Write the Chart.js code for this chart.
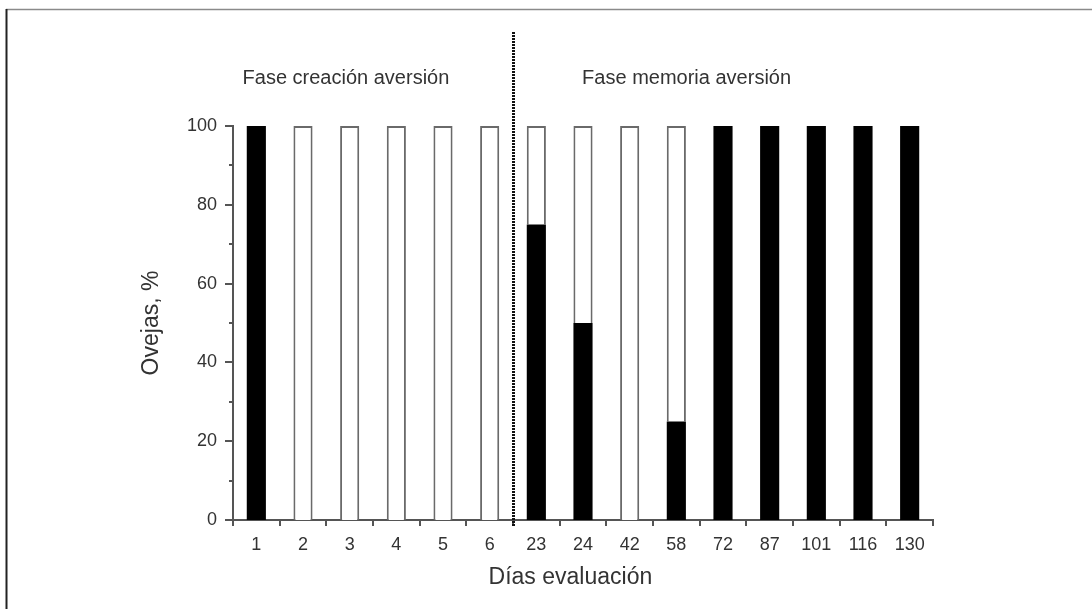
<!DOCTYPE html>
<html>
<head>
<meta charset="utf-8">
<title>Ovejas por día de evaluación</title>
<script src="https://cdn.jsdelivr.net/npm/chart.js@4/dist/chart.umd.min.js"></script>
<style>
  html, body { margin: 0; padding: 0; background: #fff; }
  #chart { display: block; }
</style>
</head>
<body>
<canvas id="chart" width="1092" height="609"></canvas>
<script>
// Días de evaluación (categorías del eje X)
const dias = ['1', '2', '3', '4', '5', '6', '23', '24', '42', '58', '72', '87', '101', '116', '130'];
// Porcentaje de ovejas en la parte negra de cada barra
const pctNegro = [100, 0, 0, 0, 0, 0, 75, 50, 0, 25, 100, 100, 100, 100, 100];
// Porcentaje de ovejas en la parte blanca de cada barra
const pctBlanco = [0, 100, 100, 100, 100, 100, 25, 50, 100, 75, 0, 0, 0, 0, 0];
// Marcas del eje Y
const yMin = 0, yMax = 100, yPaso = 20;
// Rótulos de las dos fases y posición de la separación (índice de categoría)
const fases = ['Fase creación aversión', 'Fase memoria aversión'];
const faseCentro = [1.92, 9.22];
const separacion = 5.5;
const tituloX = 'Días evaluación';

const FONT = '"Liberation Sans", Arial, sans-serif';
const TXT = '#333';

const decoracion = {
  id: 'decoracion',
  beforeDraw(chart) {
    const ctx = chart.ctx;
    ctx.save();
    // marco de la figura
    ctx.strokeStyle = '#8a8a8a';
    ctx.lineWidth = 1.5;
    ctx.beginPath();
    ctx.moveTo(6, 9.5);
    ctx.lineTo(chart.width, 9.5);
    ctx.stroke();
    ctx.strokeStyle = '#222';
    ctx.lineWidth = 2;
    ctx.beginPath();
    ctx.moveTo(6.5, 9);
    ctx.lineTo(6.5, chart.height);
    ctx.stroke();
    ctx.restore();
  },
  afterDraw(chart) {
    const ctx = chart.ctx;
    const x = chart.scales.x, y = chart.scales.y;
    const area = chart.chartArea;
    const paso = (area.right - area.left) / dias.length;
    ctx.save();
    ctx.strokeStyle = '#555';
    ctx.lineWidth = 2;
    // prolongación del eje X a la izquierda del eje Y
    ctx.beginPath();
    ctx.moveTo(area.left - 5, area.bottom);
    ctx.lineTo(area.left, area.bottom);
    ctx.stroke();
    // marcas del eje Y (mayores y menores), hacia fuera
    for (let v = yMin; v <= yMax; v += yPaso / 2) {
      const py = Math.round(y.getPixelForValue(v));
      const largo = (v % yPaso === 0) ? 8 : 4;
      ctx.beginPath();
      ctx.moveTo(area.left - largo, py);
      ctx.lineTo(area.left, py);
      ctx.stroke();
    }
    // marcas del eje X entre categorías, hacia abajo
    for (let i = 0; i <= dias.length; i++) {
      const px = Math.round(area.left + i * paso);
      ctx.beginPath();
      ctx.moveTo(px, area.bottom);
      ctx.lineTo(px, area.bottom + 6);
      ctx.stroke();
    }
    // línea punteada que separa las dos fases
    const sx = Math.round(x.getPixelForValue(separacion)) + 0.5;
    ctx.strokeStyle = '#111';
    ctx.lineWidth = 3;
    ctx.setLineDash([2, 1]);
    ctx.beginPath();
    ctx.moveTo(sx, 32);
    ctx.lineTo(sx, area.bottom + 6);
    ctx.stroke();
    ctx.setLineDash([]);
    // rótulos de las fases
    ctx.fillStyle = TXT;
    ctx.textAlign = 'center';
    ctx.textBaseline = 'middle';
    ctx.font = '20px ' + FONT;
    fases.forEach((t, i) => {
      ctx.fillText(t, x.getPixelForValue(faseCentro[i]), area.top - 48);
    });
    // título del eje X
    ctx.font = '23px ' + FONT;
    ctx.fillText(tituloX, x.getPixelForValue(6.73), area.bottom + 58);
    ctx.restore();
  }
};

new Chart(document.getElementById('chart'), {
  type: 'bar',
  data: {
    labels: dias,
    datasets: [
      {
        label: 'negro',
        data: pctNegro,
        backgroundColor: '#000',
        borderColor: '#000',
        borderWidth: 0,
        barPercentage: 0.41,
        categoryPercentage: 1
      },
      {
        label: 'blanco',
        data: pctBlanco,
        backgroundColor: '#fff',
        borderColor: '#6a6a6a',
        borderWidth: 2,
        barPercentage: 0.41,
        categoryPercentage: 1
      }
    ]
  },
  options: {
    responsive: false,
    animation: false,
    devicePixelRatio: 1,
    layout: { padding: { top: 126, right: 159, bottom: 0, left: 0 } },
    plugins: { legend: { display: false }, tooltip: { enabled: false } },
    scales: {
      x: {
        stacked: true,
        grid: { display: false, drawTicks: false },
        border: { display: true, color: '#555', width: 2 },
        ticks: { color: TXT, font: { family: FONT, size: 18 }, padding: 14, maxRotation: 0 },
        afterFit(s) { s.height = 89; }
      },
      y: {
        stacked: true,
        min: yMin, max: yMax,
        grid: { display: false, drawTicks: false },
        border: { display: true, color: '#555', width: 2 },
        ticks: { stepSize: yPaso, color: TXT, font: { family: FONT, size: 18 }, padding: 16 },
        title: {
          display: true, text: 'Ovejas, %', color: TXT,
          font: { family: FONT, size: 23 }, padding: { top: 138, bottom: 0 }
        },
        afterFit(s) { s.width = 233; }
      }
    }
  },
  plugins: [decoracion]
});
</script>
</body>
</html>
